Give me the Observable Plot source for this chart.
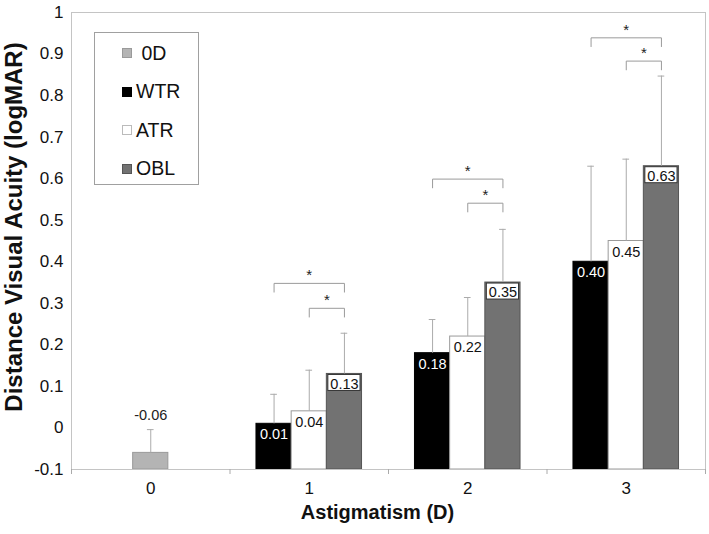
<!DOCTYPE html>
<html><head><meta charset="utf-8">
<script src="https://cdn.jsdelivr.net/npm/d3@7"></script>
<script src="https://cdn.jsdelivr.net/npm/@observablehq/plot@0.6"></script>
<style>
body{margin:0;background:#fff;font-family:"Liberation Sans",Arial,sans-serif;}
#wrap{position:relative;width:709px;height:534px;}
#legend{position:absolute;left:94px;top:32px;width:105px;height:153px;border:1px solid #a0a0a0;box-sizing:border-box;background:#fff;padding-top:1px;}
.item{height:38.5px;display:flex;align-items:center;font-size:19.5px;color:#111;white-space:pre;}
.sw{width:10px;height:10px;margin-left:27px;margin-right:4px;box-sizing:border-box;}
</style></head><body>
<div id="wrap"><div id="chart"></div><div id="legend"></div></div>
<script>
// ---- data ----
const categories = [0, 1, 2, 3];
const seriesNames = ["0D", "WTR", "ATR", "OBL"];
const legendLabels = [" 0D", "WTR", "ATR", "OBL"];
const barCategory = [0, 1, 1, 1, 2, 2, 2, 3, 3, 3];
const barSeries = ["0D", "WTR", "ATR", "OBL", "WTR", "ATR", "OBL", "WTR", "ATR", "OBL"];
const barValues = [-0.06, 0.01, 0.04, 0.13, 0.18, 0.22, 0.35, 0.40, 0.45, 0.63];
const errorTops = [-0.004, 0.081, 0.139, 0.228, 0.261, 0.314, 0.478, 0.630, 0.647, 0.847];
const bracketCategory = [1, 2, 3];
const bracketOuterY = [0.348, 0.599, 0.939];
const bracketInnerY = [0.288, 0.541, 0.883];
const yTicks = [-0.1, 0, 0.1, 0.2, 0.3, 0.4, 0.5, 0.6, 0.7, 0.8, 0.9, 1];

// ---- styles / layout ----
const seriesFill = {"0D": "#b4b4b4", WTR: "#000000", ATR: "#ffffff", OBL: "#727272"};
const seriesStroke = {"0D": "#9a9a9a", WTR: "#000000", ATR: "#9a9a9a", OBL: "#555555"};
const slot = {"0D": 0, WTR: -1, ATR: 0, OBL: 1};
const bw = 0.222;        // bar width in category units
const capHalf = 0.021;   // error cap half width
const drop = 0.021;      // bracket leg length
const yMin = yTicks[0], yMax = yTicks[yTicks.length - 1];

const bars = barValues.map((v, i) => ({
  cat: barCategory[i], series: barSeries[i], value: v, err: errorTops[i],
  cx: barCategory[i] + slot[barSeries[i]] * bw
}));
const centerOf = (c, s) => c + slot[s] * bw;

const bracketPts = [];
bracketCategory.forEach((c, i) => {
  const o = bracketOuterY[i], n = bracketInnerY[i];
  const a = centerOf(c, "WTR"), b = centerOf(c, "ATR"), e = centerOf(c, "OBL");
  [[a, o - drop], [a, o], [e, o], [e, o - drop]].forEach(([x, y]) => bracketPts.push({id: "o" + c, x, y}));
  [[b, n - drop], [b, n], [e, n], [e, n - drop]].forEach(([x, y]) => bracketPts.push({id: "i" + c, x, y}));
});
const stars = bracketCategory.flatMap((c, i) => [
  {x: (centerOf(c, "WTR") + centerOf(c, "OBL")) / 2, y: bracketOuterY[i]},
  {x: (centerOf(c, "ATR") + centerOf(c, "OBL")) / 2, y: bracketInnerY[i]}
]);

const fmt = d => d.toFixed(2);
const marks = [];
seriesNames.forEach(s => {
  marks.push(Plot.rectY(bars.filter(d => d.series === s), {
    x1: d => d.cx - bw / 2, x2: d => d.cx + bw / 2, y1: yMin, y2: "value",
    fill: seriesFill[s], stroke: seriesStroke[s], strokeWidth: 1
  }));
});
marks.push(
  Plot.frame({stroke: "#c4c4c4"}),
  Plot.ruleX(bars, {x: "cx", y1: "value", y2: "err", stroke: "#ababab"}),
  Plot.ruleY(bars, {y: "err", x1: d => d.cx - capHalf, x2: d => d.cx + capHalf, stroke: "#ababab"}),
  // value labels
  Plot.text(bars.filter(d => d.series === "0D"), {x: "cx", y: "err", text: d => fmt(d.value), dy: -14, fontSize: 14.5, fill: "#222"}),
  Plot.text(bars.filter(d => d.series === "WTR"), {x: "cx", y: "value", text: d => fmt(d.value), dy: 11, fontSize: 14.5, fill: "#fff"}),
  Plot.text(bars.filter(d => d.series === "ATR"), {x: "cx", y: "value", text: d => fmt(d.value), dy: 11, fontSize: 14.5, fill: "#111"}),
  Plot.rect(bars.filter(d => d.series === "OBL"), {
    x1: d => d.cx - bw / 2, x2: d => d.cx + bw / 2, y1: "value", y2: "value",
    insetLeft: 1.5, insetRight: 1.5, insetTop: 1, insetBottom: -17, fill: "#fff", stroke: "#333", strokeWidth: 1
  }),
  Plot.text(bars.filter(d => d.series === "OBL"), {x: "cx", y: "value", text: d => fmt(d.value), dy: 10, fontSize: 14.5, fill: "#111"}),
  // significance brackets
  Plot.line(bracketPts, {x: "x", y: "y", z: "id", stroke: "#9a9a9a", strokeWidth: 1}),
  Plot.text(stars, {x: "x", y: "y", text: () => "*", dy: -8, fontSize: 15, fill: "#222"}),
  // axes
  Plot.axisY({ticks: yTicks, tickSize: 0, tickPadding: 8, fontSize: 17, fill: "#111",
    tickFormat: d => String(Math.round(d * 10) / 10), label: null}),
  Plot.axisX({ticks: [-0.5, 0.5, 1.5, 2.5, 3.5], tickSize: 5, stroke: "#aaa", tickFormat: () => "", label: null}),
  Plot.axisX({ticks: categories, tickSize: 0, tickPadding: 12, fontSize: 17, fill: "#111", tickFormat: d => String(d), label: null}),
  Plot.text(["Astigmatism (D)"], {text: d => d, frameAnchor: "bottom", lineAnchor: "middle", dx: -11, dy: 43, fontSize: 20, fontWeight: "bold", fill: "#111"}),
  Plot.text(["Distance Visual Acuity (logMAR)"], {text: d => d, frameAnchor: "left", textAnchor: "middle", lineAnchor: "middle", rotate: -90, dx: -57, dy: -14, fontSize: 24, fontWeight: "bold", fill: "#111"})
);

const chart = Plot.plot({
  width: 709, height: 534,
  marginLeft: 71, marginRight: 4, marginTop: 12, marginBottom: 65,
  style: {fontFamily: "'Liberation Sans', Arial, sans-serif", background: "#fff"},
  x: {domain: [-0.5, 3.5], axis: null},
  y: {domain: [yMin, yMax], axis: null},
  marks
});
document.getElementById("chart").appendChild(chart);

const legend = document.getElementById("legend");
seriesNames.forEach((s, i) => {
  const it = document.createElement("div");
  it.className = "item";
  const sw = document.createElement("span");
  sw.className = "sw";
  sw.style.background = seriesFill[s];
  sw.style.border = "1px solid " + (s === "ATR" ? "#bbb" : seriesStroke[s]);
  const t = document.createElement("span");
  t.textContent = legendLabels[i];
  it.appendChild(sw); it.appendChild(t);
  legend.appendChild(it);
});
</script>
</body></html>
